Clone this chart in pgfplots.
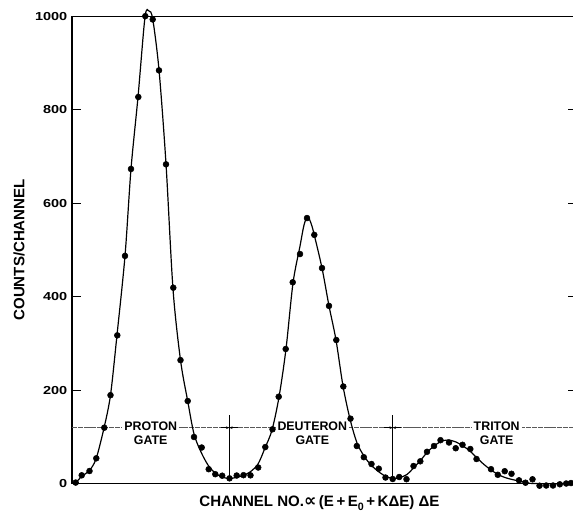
\documentclass[border=0pt]{standalone}
\usepackage{fontspec}
\setmainfont{Liberation Sans}
\newfontfamily\dejavu{DejaVu Sans}
\newfontfamily\tickfont[FakeStretch=1.25]{Liberation Sans}
\usepackage{pgfplots}
\usepackage{pgfplotstable}
\pgfplotsset{compat=1.18}
\usetikzlibrary{arrows.meta}

\pgfplotstableread{
x y
3.7 2
9.7 17.5
17.5 26.7
24.3 53.9
32.3 119.4
38.5 189
45.3 317
53 487
59 673
66.3 827
73.3 1000
80.7 993
87 884
94 683
101.3 419
108.5 264
115.7 176.5
122 99.5
129.7 77
136.7 30.6
143.3 19.9
150.2 16.7
157.5 11.1
164.7 17.1
171.5 17.8
178.5 17.5
186.2 34.2
193.3 78
200.5 116
206.7 185.7
213.7 287.8
220.7 430.5
228 491
235 568
242.3 532
250 461
257 380
264.3 307
271.3 207.6
278.5 138.7
284.8 80.2
291.8 56.3
299.5 41.7
306.8 31.7
313.5 12.8
320.7 9.6
327.2 13.9
334.5 9.2
341.5 37.4
348.3 47.5
355 67.8
362 80.2
368.5 92.7
377 87.7
383.7 75.5
390.5 82.8
398.3 73.8
404.5 52.4
419 30.6
425.8 18.6
432.7 26.3
439.5 20.8
447 6.8
453.5 1.7
460.5 9
467.5 -4.7
474.2 -4.3
481 -4.3
487.8 -1.7
494.2 0
499 1
}\countsdata

\pgfplotstableread{
x y
3.7 1
10 16
17 26.7
24 52.4
32 118.8
38.5 189.4
45 317.8
53 487
59 673
66 827
73 998
77 1011
80.7 994
87 885
94 684
101 416
108.5 264
115.7 176.5
122 106
129 67.4
136 39.6
143 22.5
150 13.9
157 10.7
164 12.8
171 17.1
178 24.6
186 41.7
193 76
200 114.5
207 185
214 288
221 429
228 508
232 553
235.5 571
239 557
242 534
250 461
257 380
264 307
271 208.6
278 138
285 86.8
292 58.9
299 39.6
307 24.6
314 15
321 10.7
328 12.8
335 19.3
341 32.1
348 48.1
355 66.3
362 80.2
369 89.9
376 93.1
384 88.8
391 80.2
398 69.5
405 54.6
412 40.7
419 28.9
426 19.3
433 12.8
440 8.6
447 5.4
454 2.1
461 0
501 -1
}\fitcurve

\begin{document}
\begin{tikzpicture}
\useasboundingbox (-54pt,-22.875pt) rectangle (375.75pt,362.625pt);
\begin{axis}[
  at={(0pt,0pt)}, anchor=south west,
  scale only axis, width=375.75pt, height=350.5pt,
  xmin=0, xmax=501, ymin=0, ymax=1000,
  axis x line*=bottom, axis y line*=left,
  axis line style={line width=0.9pt, -},
  xtick=\empty,
  ytick={0,200,400,600,800,1000},
  tick align=inside, major tick length=6.5pt,
  tick style={line width=0.7pt, black},
  /pgf/number format/assume math mode=true,
  /pgf/number format/set thousands separator={},
  yticklabel style={font=\tickfont\bfseries\fontsize{8.7}{10}\selectfont, xshift=0pt},
  clip=false,
]
\draw[line width=0.9pt] (axis cs:0,1000) -- (axis cs:501,1000);
\draw[line width=0.7pt] (axis cs:496,200) -- (axis cs:501,200);
\draw[line width=0.7pt] (axis cs:496,400) -- (axis cs:501,400);
\draw[line width=0.7pt] (axis cs:496,600) -- (axis cs:501,600);
\draw[line width=0.7pt] (axis cs:496,800) -- (axis cs:501,800);
% gate line
\draw[line width=0.5pt, black!65, dash pattern=on 4pt off 0.6pt] (axis cs:0,119.4) -- (axis cs:501,119.4);
\draw[line width=0.6pt] (axis cs:157.3,12) -- (axis cs:157.3,146.6);
\draw[line width=0.6pt] (axis cs:320.7,11) -- (axis cs:320.7,146.6);
\draw[line width=0.4pt,-{Stealth[length=2.5pt,width=2pt]}] (axis cs:149,119.4) -- (axis cs:157.3,119.4);
\draw[line width=0.4pt,-{Stealth[length=2.5pt,width=2pt]}] (axis cs:165.6,119.4) -- (axis cs:157.3,119.4);
\draw[line width=0.4pt,-{Stealth[length=2.5pt,width=2pt]}] (axis cs:312.4,119.4) -- (axis cs:320.7,119.4);
\draw[line width=0.4pt,-{Stealth[length=2.5pt,width=2pt]}] (axis cs:329,119.4) -- (axis cs:320.7,119.4);
\node[font=\bfseries\fontsize{9.3}{10}\selectfont, fill=white, inner xsep=1.5pt, inner ysep=0.5pt] at (axis cs:78.7,121.5) {PROTON};
\node[font=\bfseries\fontsize{9.3}{10}\selectfont, fill=white, inner xsep=1.5pt, inner ysep=0.5pt] at (axis cs:78.7,93) {GATE};
\node[font=\bfseries\fontsize{9.3}{10}\selectfont, fill=white, inner xsep=1.5pt, inner ysep=0.5pt] at (axis cs:240.3,121.5) {DEUTERON};
\node[font=\bfseries\fontsize{9.3}{10}\selectfont, fill=white, inner xsep=1.5pt, inner ysep=0.5pt] at (axis cs:240.3,93) {GATE};
\node[font=\bfseries\fontsize{9.3}{10}\selectfont, fill=white, inner xsep=1.5pt, inner ysep=0.5pt] at (axis cs:424.7,121.5) {TRITON};
\node[font=\bfseries\fontsize{9.3}{10}\selectfont, fill=white, inner xsep=1.5pt, inner ysep=0.5pt] at (axis cs:424.7,93) {GATE};
% data
\addplot[smooth, line width=0.9pt, black, no markers] table {\fitcurve};
\addplot[only marks, mark=*, mark size=2.2pt, black] table {\countsdata};
% labels
\node[rotate=90, font=\bfseries\fontsize{11.3}{12}\selectfont] at (axis cs:-53,500) {COUNTS/CHANNEL};
\node[font=\bfseries\fontsize{11.3}{12}\selectfont] at (axis cs:247.5,-42.4) {CHANNEL NO.{\dejavu\bfseries\fontsize{13}{12}\selectfont ∝}\,(E\,+\,E\raisebox{-0.45ex}{\fontsize{8}{8}\selectfont 0}\,+\,KΔE) ΔE};
\end{axis}
\end{tikzpicture}
\end{document}
